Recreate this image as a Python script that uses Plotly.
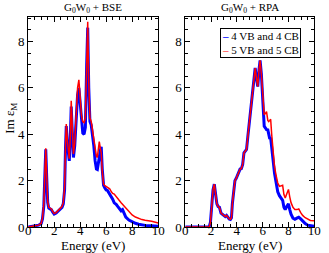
import plotly.graph_objects as go

# ---- Data: G0W0 + BSE (left panel) ----
bse_energy = [0, 0.3, 0.6, 0.8, 1.0, 1.1, 1.2, 1.28, 1.35, 1.42, 1.5, 1.58, 1.68, 1.78, 1.88, 2.0,
              2.15, 2.3, 2.45, 2.6, 2.7, 2.8, 2.87, 2.93, 3.02, 3.1, 3.16, 3.24, 3.31, 3.4, 3.48,
              3.58, 3.7, 3.8, 3.9, 4.0, 4.1, 4.2, 4.3, 4.4, 4.5, 4.58, 4.66, 4.75, 4.85, 4.95,
              5.05, 5.15, 5.25, 5.32, 5.4, 5.47, 5.55, 5.62, 5.7, 5.8, 5.9, 6.0, 6.1, 6.27, 6.4,
              6.5, 6.62, 6.77, 6.9, 7.0, 7.15, 7.26, 7.4, 7.51, 7.75, 8.0, 8.25, 8.5, 8.75, 9.0,
              9.5, 10.0]
bse_4vb = [0.0, 0.02, 0.05, 0.08, 0.15, 0.35, 0.9, 2.2, 3.35, 2.2, 1.05, 0.82, 0.8, 0.75, 0.65, 0.56,
           0.6, 0.68, 0.75, 0.85, 1.0, 1.6, 3.4, 4.35, 3.6, 3.0, 2.85, 3.8, 5.2, 4.0, 3.0,
           3.5, 4.9, 5.7, 6.0, 5.2, 4.4, 4.05, 4.0, 4.3, 7.0, 8.6, 6.0, 4.55, 4.4, 4.0,
           3.5, 2.85, 2.5, 2.48, 2.7, 3.0, 3.3, 3.46, 2.5, 1.8, 1.68, 1.6, 1.58, 1.44, 1.3,
           1.2, 1.04, 0.98, 0.88, 0.8, 0.7, 0.75, 0.55, 0.43, 0.3, 0.22, 0.16, 0.12, 0.09, 0.07,
           0.05, 0.03]
bse_5vb = [0.0, 0.02, 0.05, 0.08, 0.16, 0.38, 1.0, 2.3, 3.4, 2.3, 1.1, 0.85, 0.82, 0.78, 0.68, 0.58,
           0.62, 0.7, 0.78, 0.88, 1.05, 1.7, 3.5, 4.44, 3.7, 3.05, 2.95, 3.9, 5.45, 4.2, 3.15,
           3.6, 5.1, 6.0, 6.35, 5.6, 4.8, 4.55, 4.5, 4.7, 7.3, 8.85, 6.2, 4.7, 4.55, 4.2,
           3.85, 3.3, 3.05, 3.0, 3.3, 3.68, 3.4, 3.2, 2.4, 1.85, 1.78, 1.75, 1.7, 1.65, 1.52,
           1.45, 1.42, 1.33, 1.22, 1.15, 1.05, 0.98, 0.9, 0.82, 0.65, 0.52, 0.43, 0.37, 0.32, 0.29,
           0.25, 0.17]

# ---- Data: G0W0 + RPA (right panel) ----
rpa_energy = [0, 1.85, 1.95, 2.05, 2.15, 2.25, 2.35, 2.45, 2.55, 2.65, 2.77, 2.9, 3.0, 3.1, 3.2,
              3.3, 3.4, 3.5, 3.58, 3.65, 3.75, 3.85, 3.95, 4.05, 4.15, 4.25, 4.35, 4.45, 4.55,
              4.65, 4.75, 4.85, 4.95, 5.05, 5.15, 5.25, 5.35, 5.42, 5.5, 5.62, 5.72, 5.8, 5.9,
              6.0, 6.12, 6.22, 6.3, 6.4, 6.47, 6.55, 6.62, 6.7, 6.8, 6.92, 7.05, 7.17, 7.3, 7.42,
              7.55, 7.65, 7.75, 7.88, 8.0, 8.1, 8.2, 8.35, 8.5, 8.65, 8.8, 8.95, 9.1, 9.3, 9.5,
              9.7, 10.0]
rpa_common = [0, 0, 0.2, 0.9, 1.6, 1.85, 1.5, 1.0, 0.88, 0.85, 0.6, 0.55, 0.5, 0.45, 0.5,
              0.42, 0.35, 0.33, 0.4, 1.0, 1.6, 2.0, 2.1, 2.25, 2.4, 2.5, 2.52, 2.7, 3.2,
              3.3, 3.35, 3.9, 4.4, 5.0, 5.6, 6.1, 6.6, 6.86, 6.5, 6.06, 6.8, 7.19, 6.6,
              5.7]
rpa_4vb = rpa_common + [4.35, 4.27, 4.2, 4.19, 3.95, 3.8, 3.85, 3.4, 2.9, 2.32, 1.9, 1.52, 1.35, 1.25,
                        1.15, 0.85, 0.75, 0.9, 1.0, 0.75, 0.55, 0.38, 0.33, 0.38, 0.42, 0.35, 0.25, 0.15, 0.08,
                        0.05, 0.03]
rpa_5vb = rpa_common + [4.84, 4.9, 4.98, 4.6, 4.55, 4.6, 4.65, 4.0, 3.2, 2.6, 2.2, 1.9, 1.75, 1.78,
                        1.8, 1.4, 1.25, 1.45, 1.62, 1.3, 1.05, 0.85, 0.75, 0.75, 0.78, 0.62, 0.5, 0.4, 0.32,
                        0.28, 0.27]

series_names = ["4 VB and 4 CB", "5 VB and 5 CB"]
titles = ["G<sub>0</sub>W<sub>0</sub> + BSE", "G<sub>0</sub>W<sub>0</sub> + RPA"]
x_title = "Energy (eV)"
y_title = "Im ε<sub>M</sub>"
tick_vals_x = [0, 2, 4, 6, 8, 10]
tick_vals_y = [0, 2, 4, 6, 8]

FONT = "Liberation Serif"
BLUE = "#0000ff"
RED = "#ff0000"
W, H = 329, 253
T, B = 17, 26
PH = H - T - B
L1, R1 = 26, 160
L2, R2 = 188, 321


def py(px):
    return 1 - (px - T) / PH


fig = go.Figure()
fig.add_trace(go.Scatter(x=bse_energy, y=bse_4vb, mode="lines", line=dict(color=BLUE, width=3),
                         name=series_names[0], xaxis="x", yaxis="y"))
fig.add_trace(go.Scatter(x=bse_energy, y=bse_5vb, mode="lines", line=dict(color=RED, width=1.5),
                         name=series_names[1], xaxis="x", yaxis="y"))
fig.add_trace(go.Scatter(x=rpa_energy, y=rpa_4vb, mode="lines", line=dict(color=BLUE, width=3),
                         name=series_names[0], xaxis="x2", yaxis="y2"))
fig.add_trace(go.Scatter(x=rpa_energy, y=rpa_5vb, mode="lines", line=dict(color=RED, width=1.5),
                         name=series_names[1], xaxis="x2", yaxis="y2"))

xcommon = dict(range=[0, 10], tickvals=tick_vals_x, ticks="inside", ticklen=5, tickcolor="black",
               showline=True, linecolor="black", linewidth=1, mirror="allticks", showgrid=False,
               zeroline=False, tickfont=dict(family=FONT, size=13, color="black"),
               ticklabelstandoff=-9,
               minor=dict(ticks="inside", ticklen=3, dtick=0.5, tick0=0, tickcolor="black", showgrid=False))
ycommon = dict(range=[0, 9.06], tickvals=tick_vals_y, ticks="inside", ticklen=5, tickcolor="black",
               showline=True, linecolor="black", linewidth=1, mirror="allticks", showgrid=False,
               zeroline=False, tickfont=dict(family=FONT, size=13, color="black"),
               minor=dict(ticks="inside", ticklen=3, dtick=0.5, tick0=0, tickcolor="black", showgrid=False))

legend_text = (f"<span style='color:{BLUE}'><b>–</b></span> {series_names[0]}<br>"
               f"<span style='color:{RED}'>–</span> {series_names[1]}")

fig.update_layout(
    width=W, height=H,
    margin=dict(l=0, r=0, t=T, b=B),
    paper_bgcolor="white", plot_bgcolor="white",
    font=dict(family=FONT, color="black"),
    showlegend=False,
    xaxis=dict(domain=[L1 / W, R1 / W], anchor="y", **xcommon),
    yaxis=dict(domain=[0, 1], anchor="x", **ycommon),
    xaxis2=dict(domain=[L2 / W, R2 / W], anchor="y2", **xcommon),
    yaxis2=dict(domain=[0, 1], anchor="x2", **ycommon),
    annotations=[
        dict(text=titles[0], x=(L1 + R1) / 2 / W, y=1, xref="paper", yref="paper",
             xanchor="center", yanchor="bottom", yshift=0, showarrow=False,
             font=dict(family=FONT, size=11, color="black")),
        dict(text=titles[1], x=(L2 + R2) / 2 / W, y=1, xref="paper", yref="paper",
             xanchor="center", yanchor="bottom", yshift=0, showarrow=False,
             font=dict(family=FONT, size=11, color="black")),
        dict(text=x_title, x=(L1 + R1) / 2 / W, y=py(246), xref="paper", yref="paper",
             xanchor="center", yanchor="middle", showarrow=False,
             font=dict(family=FONT, size=13, color="black")),
        dict(text=x_title, x=(L2 + R2) / 2 / W, y=py(246), xref="paper", yref="paper",
             xanchor="center", yanchor="middle", showarrow=False,
             font=dict(family=FONT, size=13, color="black")),
        dict(text=y_title, x=7 / W, y=py(118), xref="paper", yref="paper",
             xanchor="center", yanchor="middle", textangle=-90, showarrow=False,
             font=dict(family=FONT, size=13, color="black")),
        dict(text=legend_text, x=307 / W, y=py(28), xref="paper", yref="paper",
             xanchor="right", yanchor="top", align="left", showarrow=False,
             bgcolor="white", bordercolor="black", borderwidth=1, borderpad=1,
             font=dict(family=FONT, size=11, color="black")),
    ],
)

fig.write_html("out.html", config={"displayModeBar": False},
               post_script="document.body.style.margin='0';document.body.style.overflow='hidden';")
